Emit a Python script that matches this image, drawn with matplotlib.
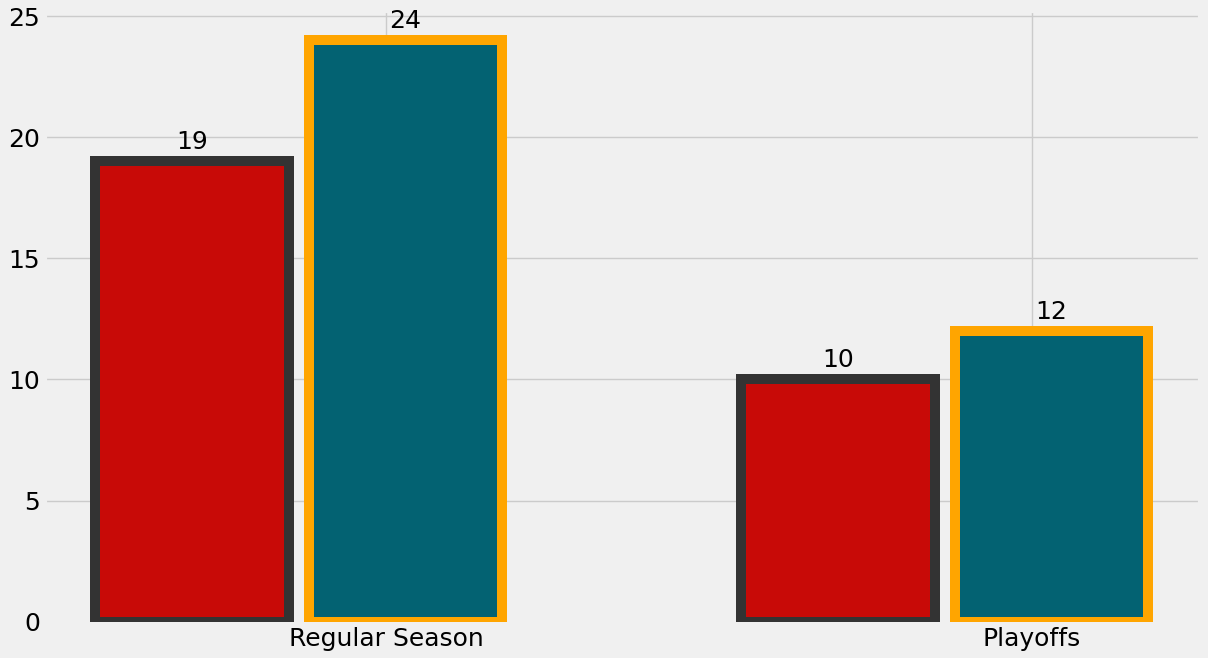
import matplotlib
matplotlib.use("Agg")
import matplotlib.pyplot as plt
import numpy as np

# Data
categories = ["Regular Season", "Playoffs"]
series_a = [19, 10]   # red bars, dark edge
series_b = [24, 12]   # teal bars, orange edge

RED = "#c80a07"
TEAL = "#036272"
DARK_EDGE = "#333333"
ORANGE_EDGE = "#ffa500"

plt.style.use("fivethirtyeight")

fig, ax = plt.subplots(figsize=(12.08, 6.58), dpi=100)
fig.subplots_adjust(left=0.0373, right=0.9934, top=0.983, bottom=0.055)

x = np.arange(len(categories))
width = 0.3
lw = 7.2

bars_a = ax.bar(x - 0.3, series_a, width=width, color=RED,
                edgecolor=DARK_EDGE, linewidth=lw, zorder=3)
bars_b = ax.bar(x + 0.03, series_b, width=width, color=TEAL,
                edgecolor=ORANGE_EDGE, linewidth=lw, zorder=3)

for bars in (bars_a, bars_b):
    for b in bars:
        h = b.get_height()
        ax.text(b.get_x() + b.get_width() / 2, h + 0.3, f"{h:g}",
                ha="center", va="bottom", fontsize=18, color="black", zorder=4)

ax.set_xticks(x)
ax.set_xticklabels(categories)
ax.set_yticks([0, 5, 10, 15, 20, 25])
ax.tick_params(axis="both", labelsize=18, length=0, colors="black")
ax.set_xlim(-0.528, 1.26)
ax.set_ylim(0, 25.2)
ax.grid(True, color="#cbcbcb", linewidth=1)
ax.set_axisbelow(True)

fig.savefig("out.png", dpi=100, facecolor=fig.get_facecolor())
